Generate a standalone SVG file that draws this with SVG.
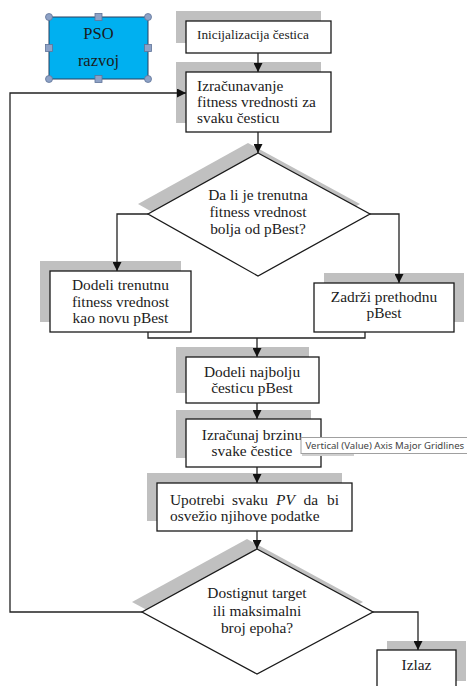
<svg xmlns="http://www.w3.org/2000/svg" width="467" height="686" viewBox="0 0 467 686">
<style>
.sh{fill:#c0c0c0;stroke:none}
.bx{fill:#fff;stroke:#1a1a1a;stroke-width:1.3}
.t{font-family:"Liberation Serif","Times New Roman",serif;font-size:15.4px;fill:#1b1b1b}
.c{text-anchor:middle}
.ln{fill:none;stroke:#222;stroke-width:1.3}
.h{fill:#8ea2c6;stroke:#5f7398;stroke-width:0.8}
</style>
<defs>
<marker id="ar" viewBox="0 0 10 10" refX="10" refY="5" markerWidth="9" markerHeight="9" markerUnits="userSpaceOnUse" orient="auto">
<path d="M0,0 L10,5 L0,10 z" fill="#111"/>
</marker>
</defs>
<rect width="467" height="686" fill="#fff"/>

<g id="pso">
<rect x="49" y="17" width="99" height="62" fill="#00b0f0" stroke="#2b3f5e" stroke-width="1"/>
<text class="t c" x="98.5" y="38.5" style="font-size:16.5px">PSO</text>
<text class="t c" x="98.5" y="66" style="font-size:16.5px">razvoj</text>
<circle class="h" cx="49" cy="17" r="3.5"/>
<circle class="h" cx="148" cy="17" r="3.5"/>
<circle class="h" cx="49" cy="79" r="3.5"/>
<circle class="h" cx="148" cy="79" r="3.5"/>
<rect class="h" x="95" y="13.5" width="7" height="7"/>
<rect class="h" x="95" y="75.5" width="7" height="7"/>
<rect class="h" x="45.5" y="44.5" width="7" height="7"/>
<rect class="h" x="144.5" y="44.5" width="7" height="7"/>
</g>

<g id="init">
<rect class="sh" x="176" y="11" width="145" height="32"/>
<rect class="bx" x="186" y="21" width="145" height="32"/>
<text class="t" x="197" y="38.5" style="font-size:13.3px">Inicijalizacija čestica</text>
</g>

<g id="fitness">
<rect class="sh" x="176" y="62" width="145" height="61"/>
<rect class="bx" x="186" y="72" width="145" height="60"/>
<text class="t" x="197" y="91">Izračunavanje</text>
<text class="t" x="197" y="107">fitness vrednosti za</text>
<text class="t" x="197" y="123">svaku česticu</text>
</g>

<g id="decision1">
<polygon class="sh" points="248,143 360,204 248,266 138,204"/>
<polygon class="bx" points="258,153 370,214 258,276 148,214"/>
<text class="t c" x="258" y="200">Da li je trenutna</text>
<text class="t c" x="258" y="217">fitness vrednost</text>
<text class="t c" x="258" y="234">bolja od pBest?</text>
</g>

<g id="assign">
<rect class="sh" x="40" y="261" width="141" height="61"/>
<rect class="bx" x="50" y="271" width="141" height="61"/>
<text class="t c" x="120.5" y="290">Dodeli trenutnu</text>
<text class="t c" x="120.5" y="306.5">fitness vrednost</text>
<text class="t c" x="120.5" y="323">kao novu pBest</text>
</g>

<g id="keep">
<rect class="sh" x="324" y="273" width="140" height="49"/>
<rect class="bx" x="314" y="283" width="140" height="49"/>
<text class="t c" x="384" y="302">Zadrži prethodnu</text>
<text class="t c" x="384" y="318">pBest</text>
</g>

<g id="best">
<rect class="sh" x="176" y="347" width="133" height="46"/>
<rect class="bx" x="186" y="357" width="133" height="46"/>
<text class="t c" x="252" y="377">Dodeli najbolju</text>
<text class="t c" x="252" y="393">česticu pBest</text>
</g>

<g id="velocity">
<rect class="sh" x="176" y="410" width="135" height="48"/>
<rect class="bx" x="186" y="419" width="135" height="48"/>
<text class="t c" x="252" y="440">Izračunaj brzinu</text>
<text class="t c" x="252" y="456">svake čestice</text>
</g>

<g id="update">
<rect class="sh" x="147" y="473" width="195" height="48"/>
<rect class="bx" x="157" y="483" width="195" height="48"/>
<text class="t" y="505"><tspan x="170">Upotrebi</tspan><tspan x="232">svaku</tspan><tspan x="276" font-style="italic">PV</tspan><tspan x="303.5">da</tspan><tspan x="327">bi</tspan></text>
<text class="t" x="170" y="520.5">osvežio njihove podatke</text>
</g>

<g id="decision2">
<polygon class="sh" points="247,539 363,602 247,664 132,602"/>
<polygon class="bx" points="257,549 373,612 257,674 142,612"/>
<text class="t c" x="257" y="597.5">Dostignut target</text>
<text class="t c" x="257" y="615.5">ili maksimalni</text>
<text class="t c" x="257" y="633">broj epoha?</text>
</g>

<g id="exit">
<rect class="sh" x="387" y="641" width="79" height="40"/>
<rect class="bx" x="377" y="650" width="79" height="42"/>
<text class="t c" x="416.5" y="670">Izlaz</text>
</g>

<g id="connectors">
<line class="ln" x1="258" y1="53" x2="258" y2="72" marker-end="url(#ar)"/>
<line class="ln" x1="258" y1="132" x2="258" y2="153" marker-end="url(#ar)"/>
<polyline class="ln" points="148,214 117,214 117,271" marker-end="url(#ar)"/>
<polyline class="ln" points="370,214 399,214 399,283" marker-end="url(#ar)"/>
<polyline class="ln" points="148,332 148,338 365,338 365,332"/>
<line class="ln" x1="257" y1="338" x2="257" y2="357" marker-end="url(#ar)"/>
<line class="ln" x1="257" y1="403" x2="257" y2="419" marker-end="url(#ar)"/>
<line class="ln" x1="257" y1="467" x2="257" y2="483" marker-end="url(#ar)"/>
<line class="ln" x1="257" y1="531" x2="257" y2="549" marker-end="url(#ar)"/>
<polyline class="ln" points="142,612 10,612 10,93 186,93" marker-end="url(#ar)"/>
<polyline class="ln" points="373,612 418,612 418,650" marker-end="url(#ar)"/>
</g>

<g id="tooltip">
<rect x="302" y="453" width="52" height="3" fill="#cfcfcf"/>
<rect x="301" y="437.5" width="170" height="16" fill="#fff" stroke="#a0a0a0" stroke-width="1"/>
<text x="305.5" y="449" font-family="'Noto Sans', 'Open Sans', sans-serif" font-size="9.6" fill="#444">Vertical (Value) Axis Major Gridlines</text>
</g>
</svg>
